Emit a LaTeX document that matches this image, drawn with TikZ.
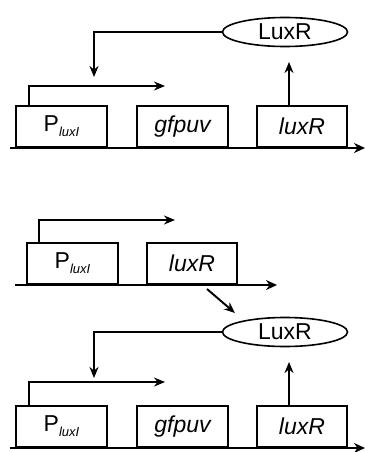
\documentclass[tikz,border=0pt]{standalone}
\usepackage{fontspec}
\setmainfont{Liberation Sans}
\usetikzlibrary{shapes.geometric,arrows.meta}
\begin{document}
\begin{tikzpicture}[x=1pt,y=-1pt,
  gene/.style={draw,line width=1.9pt,minimum width=91pt,minimum height=41pt,anchor=south west,inner sep=0pt,font=\fontsize{23}{25}\selectfont},
  prot/.style={draw,ellipse,line width=1.6pt,minimum width=125pt,minimum height=29pt,inner sep=0pt,font=\fontsize{23}{25}\selectfont},
  dna/.style={line width=2.8pt,-{Stealth[length=11pt,width=10pt]}},
  arr/.style={line width=1.9pt,-{Stealth[length=11pt,width=9pt]}}]
\useasboundingbox (0,0) rectangle (366,452);
\newcommand{\pluxi}{P\raisebox{-5pt}{\fontsize{13}{13}\selectfont\itshape luxI}}
% ---------- top panel ----------
\coordinate (d1s) at (10,148);
\coordinate (d1e) at (365,148);
\draw[dna] (d1s) -- (d1e);
\node[gene] (p1) at (15,148) {\pluxi};
\node[gene] (g1) at (136,148) {\itshape gfpuv};
\node[gene,minimum width=90pt] (r1) at (256,148) {\itshape luxR};
\node[prot] (L1) at (285,32) {LuxR};
\coordinate (p1a) at (29,86);
\coordinate (p1b) at (165,86);
\draw[arr] (p1.north west -| p1a) -- (p1a) -- (p1b);
\coordinate (f1a) at (94,32);
\coordinate (f1b) at (94,77);
\draw[arr] (L1.west) -- (f1a) -- (f1b);
\coordinate (u1) at (289,62);
\draw[arr] (r1.north -| u1) -- (u1);
% ---------- middle panel ----------
\coordinate (d2s) at (15,285);
\coordinate (d2e) at (277,285);
\draw[dna] (d2s) -- (d2e);
\node[gene] (p2) at (26,285) {\pluxi};
\node[gene,minimum width=90pt] (r2) at (146,285) {\itshape luxR};
\coordinate (p2a) at (39,220);
\coordinate (p2b) at (175,220);
\draw[arr] (p2.north west -| p2a) -- (p2a) -- (p2b);
\coordinate (s2a) at (207,289);
\coordinate (s2b) at (235,313);
\draw[arr] (s2a) -- (s2b);
% ---------- bottom panel ----------
\coordinate (d3s) at (10,448);
\coordinate (d3e) at (365,448);
\draw[dna] (d3s) -- (d3e);
\node[gene] (p3) at (15,448) {\pluxi};
\node[gene] (g3) at (136,448) {\itshape gfpuv};
\node[gene,minimum width=90pt] (r3) at (256,448) {\itshape luxR};
\node[prot] (L3) at (285,332) {LuxR};
\coordinate (p3a) at (29,382);
\coordinate (p3b) at (165,382);
\draw[arr] (p3.north west -| p3a) -- (p3a) -- (p3b);
\coordinate (f3a) at (94,332);
\coordinate (f3b) at (94,378);
\draw[arr] (L3.west) -- (f3a) -- (f3b);
\coordinate (u3) at (289,362);
\draw[arr] (r3.north -| u3) -- (u3);
\end{tikzpicture}
\end{document}
